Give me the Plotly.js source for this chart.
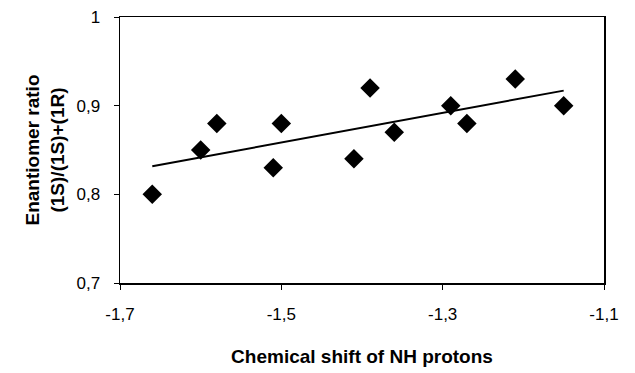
<!DOCTYPE html>
<html><head><meta charset="utf-8">
<script src="https://cdn.plot.ly/plotly-3.0.1.min.js"></script>
<style>html,body{margin:0;padding:0;background:#fff}#chart{width:635px;height:373px}</style>
</head><body><div id="chart"></div>
<script>
const shift = [-1.66, -1.60, -1.58, -1.51, -1.50, -1.41, -1.39, -1.36, -1.29, -1.27, -1.21, -1.15];
const ratio = [0.80, 0.85, 0.88, 0.83, 0.88, 0.84, 0.92, 0.87, 0.90, 0.88, 0.93, 0.90];
const xTicks = [-1.7, -1.5, -1.3, -1.1];
const xTickText = ['-1,7', '-1,5', '-1,3', '-1,1'];
const yTicks = [0.7, 0.8, 0.9, 1];
const yTickText = ['0,7', '0,8', '0,9', '1'];

// least-squares trend line from the data
const n = shift.length;
const mx = shift.reduce((a,b)=>a+b,0)/n, my = ratio.reduce((a,b)=>a+b,0)/n;
let sxy=0, sxx=0;
for (let i=0;i<n;i++){ sxy+=(shift[i]-mx)*(ratio[i]-my); sxx+=(shift[i]-mx)**2; }
const slope = sxy/sxx, icpt = my - slope*mx;
const xMin = Math.min(...shift), xMax = Math.max(...shift);
const trendX = [xMin, xMax], trendY = trendX.map(x=>icpt+slope*x);

const font = 'Liberation Sans, Arial, sans-serif';
Plotly.newPlot('chart', [
  {x: trendX, y: trendY, mode:'lines', line:{color:'#000', width:2}, hoverinfo:'skip'},
  {x: shift, y: ratio, mode:'markers', marker:{symbol:'diamond', size:15, color:'#000'}}
], {
  width:635, height:373, showlegend:false,
  paper_bgcolor:'#fff', plot_bgcolor:'#fff',
  margin:{l:120, r:31, t:17, b:90},
  font:{family:font, color:'#000', size:17},
  xaxis:{range:[-1.7,-1.1], tickvals:xTicks, ticktext:xTickText, ticks:'outside', ticklen:5, tickcolor:'#000',
    ticklabelstandoff:10,
    showline:true, linecolor:'#000', linewidth:1.5, mirror:true, showgrid:false, zeroline:false,
    title:{text:'<b>Chemical shift of NH protons</b>', font:{size:19}, standoff:27}},
  yaxis:{range:[0.7,1], tickvals:yTicks, ticktext:yTickText, ticks:'outside', ticklen:5, tickcolor:'#000',
    ticklabelstandoff:10,
    showline:true, linecolor:'#000', linewidth:1.5, mirror:true, showgrid:false, zeroline:false,
    title:{text:'<b>Enantiomer ratio<br>(1S)/(1S)+(1R)</b>', font:{size:19}, standoff:7}}
}, {displayModeBar:false, staticPlot:true});
</script></body></html>
